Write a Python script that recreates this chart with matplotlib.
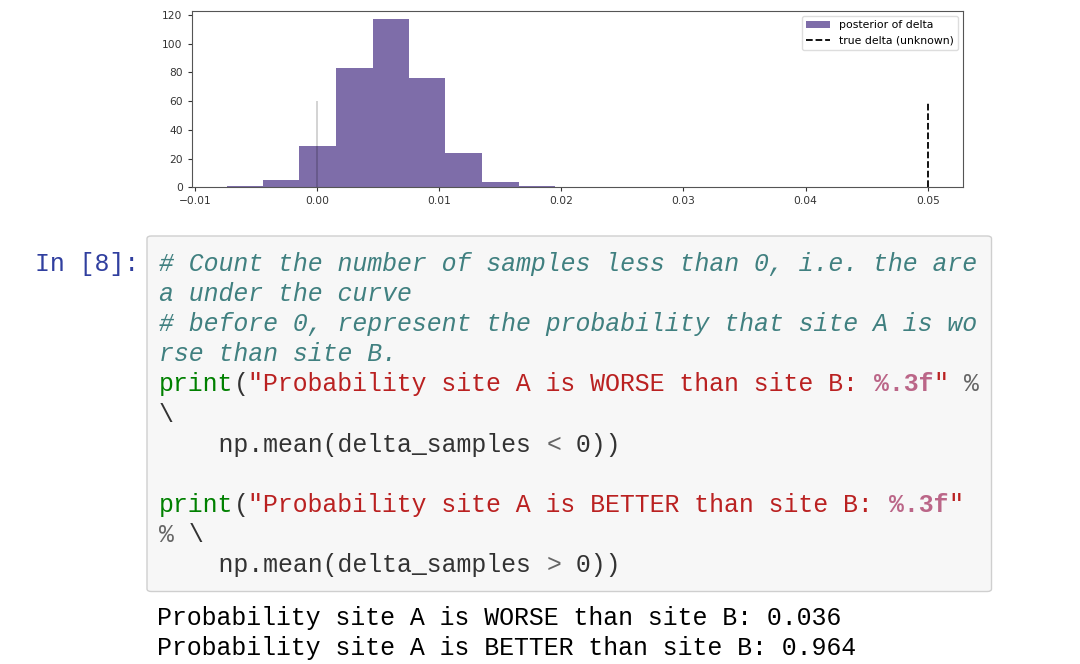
import matplotlib
matplotlib.use("Agg")
import matplotlib.pyplot as plt
from matplotlib.patches import FancyBboxPatch

# ---- data ----
bin_edges = [-0.0074, -0.0044, -0.00145, 0.00154, 0.00454, 0.00752,
             0.0105, 0.0135, 0.0165, 0.0195]
bin_counts = [1, 5, 29, 83, 117, 76, 24, 4, 1]
zero_x = 0.0
true_delta = 0.05
vline_top = 60
hist_label = "posterior of delta"
true_label = "true delta (unknown)"

prompt = "In [8]:"
code_lines = [
    [("# Count the number of samples less than 0, i.e. the are", "comment")],
    [("a under the curve", "comment")],
    [("# before 0, represent the probability that site A is wo", "comment")],
    [("rse than site B.", "comment")],
    [("print", "builtin"), ("(", "plain"),
     ('"Probability site A is WORSE than site B: ', "string"),
     ("%.3f", "fmt"), ('"', "string"), (" ", "plain"), ("%", "op")],
    [("\\", "plain")],
    [("    np.mean(delta_samples ", "plain"), ("<", "op"), (" 0))", "plain")],
    [],
    [("print", "builtin"), ("(", "plain"),
     ('"Probability site A is BETTER than site B: ', "string"),
     ("%.3f", "fmt"), ('"', "string")],
    [("%", "op"), (" \\", "plain")],
    [("    np.mean(delta_samples ", "plain"), (">", "op"), (" 0))", "plain")],
]
output_lines = [
    "Probability site A is WORSE than site B: 0.036",
    "Probability site A is BETTER than site B: 0.964",
]

W, H = 1080, 664
fig = plt.figure(figsize=(W / 100, H / 100), dpi=100)
fig.patch.set_facecolor("white")


def fx(x):
    return x / W


def fy(y):
    return 1 - y / H


# ---- chart ----
ax = fig.add_axes([fx(191.7), fy(187.3), (962.7 - 191.7) / W, (187.3 - 11) / H])
ax.hist(bin_edges[:-1], bins=bin_edges, weights=bin_counts,
        histtype="stepfilled", color="#7A68A6", alpha=0.97, label=hist_label)
ax.vlines(zero_x, 0, vline_top, color="black", alpha=0.2, linewidth=1.2)
ax.vlines(true_delta, 0, vline_top, color="black", linestyle="--",
          linewidth=1.3, label=true_label)
ax.set_xticks([-0.01, 0.0, 0.01, 0.02, 0.03, 0.04, 0.05])
ax.set_yticks([0, 20, 40, 60, 80, 100, 120])
ax.tick_params(labelsize=7.7, length=3, colors="#333333", width=0.8)
for s in ax.spines.values():
    s.set_color("#555555")
ax.legend(loc="upper right", fontsize=7.8, frameon=True, framealpha=1,
          edgecolor="#dddddd", fancybox=True, handlelength=2.2,
          borderaxespad=0.45)

# ---- code cell ----
box = FancyBboxPatch((fx(147), fy(591.5)), (991.5 - 147) / W, (591.5 - 236) / H,
                     boxstyle="round,pad=0,rounding_size=0.004",
                     transform=fig.transFigure, facecolor="#f7f7f7",
                     edgecolor="#cfcfcf", linewidth=1.0)
fig.patches.append(box)

mono = "Liberation Mono"
fs = 17.9
char_w = 14.9
x0 = 159
base0 = 271
line_h = 30.1

styles = {
    "comment": dict(color="#408080", style="italic"),
    "builtin": dict(color="#008000"),
    "plain": dict(color="#333333"),
    "string": dict(color="#BA2121"),
    "fmt": dict(color="#BB6688", weight="bold"),
    "op": dict(color="#666666"),
}

fig.text(fx(139), fy(base0), prompt, ha="right", va="baseline",
         family=mono, fontsize=fs, color="#303F9F")

for i, segs in enumerate(code_lines):
    col = 0
    yb = base0 + i * line_h
    for txt, kind in segs:
        fig.text(fx(x0 + col * char_w), fy(yb), txt, ha="left", va="baseline",
                 family=mono, fontsize=fs, **styles[kind])
        col += len(txt)

for j, txt in enumerate(output_lines):
    yb = 625 + j * 30
    fig.text(fx(157), fy(yb), txt, ha="left", va="baseline",
             family=mono, fontsize=fs, color="black")

fig.savefig("out.png", dpi=100)
